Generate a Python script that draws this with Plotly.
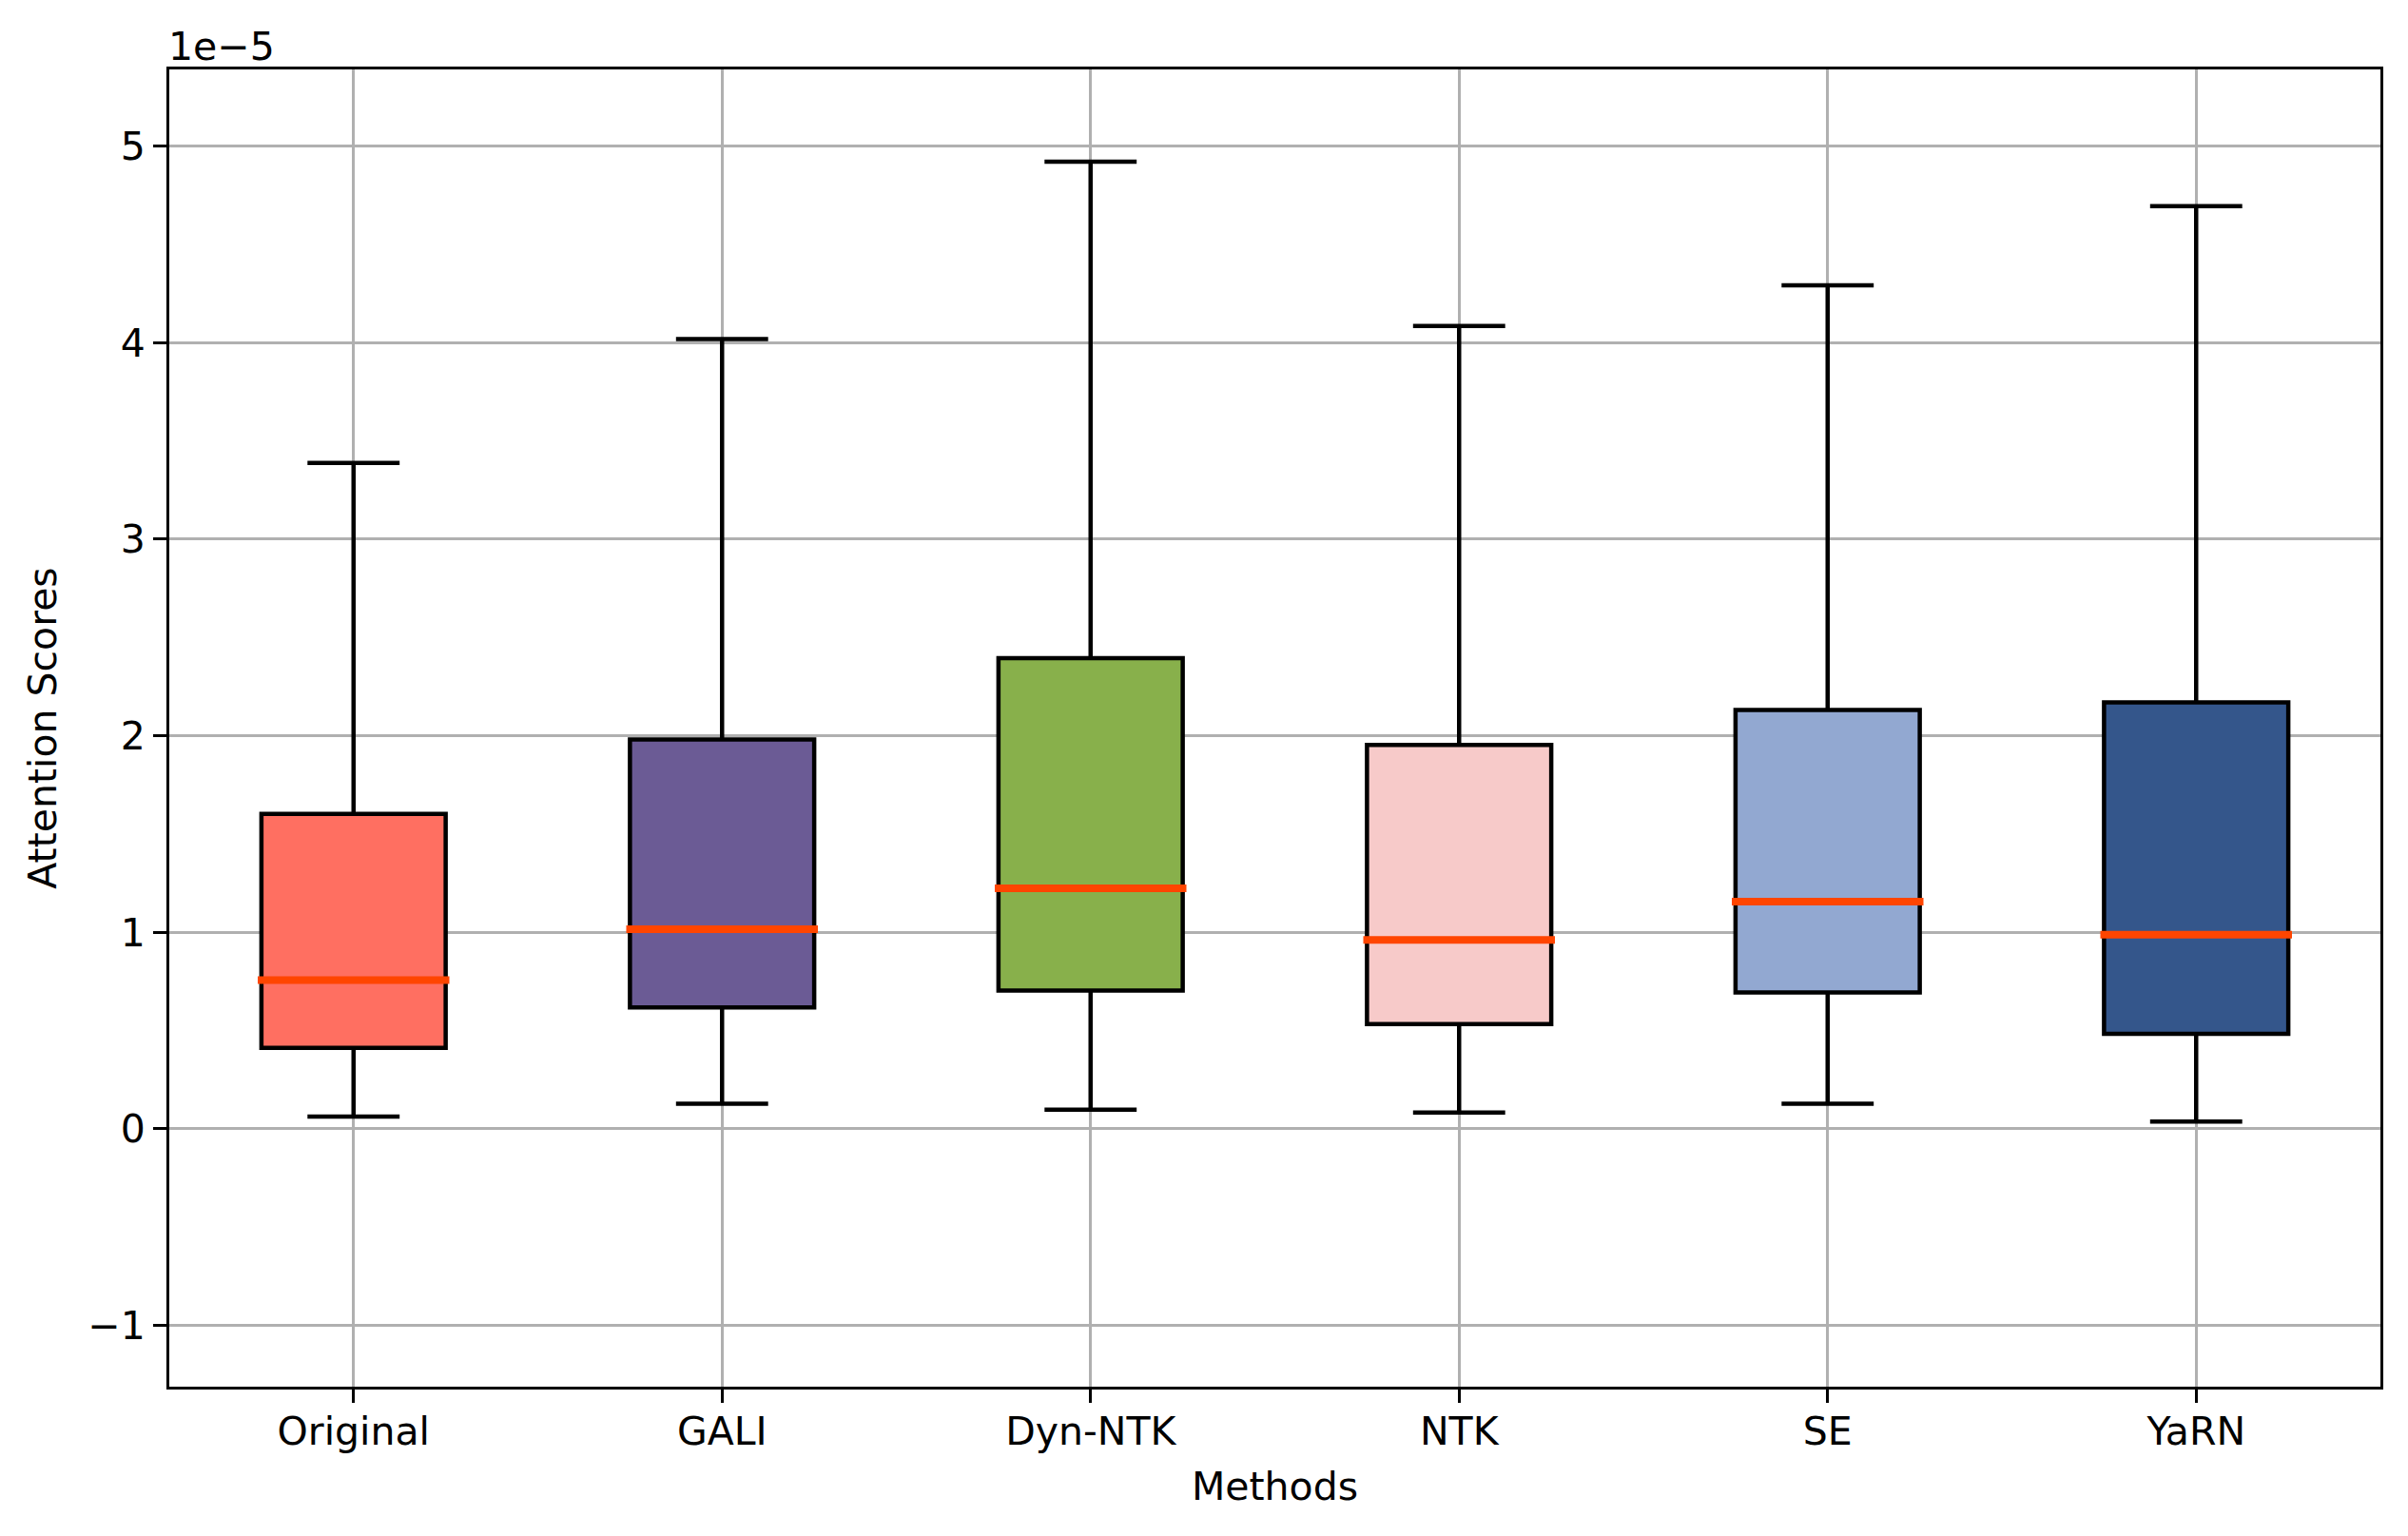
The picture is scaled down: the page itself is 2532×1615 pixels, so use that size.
import plotly.graph_objects as go

# box statistics, in units of 1e-5
methods = ["Original", "GALI", "Dyn-NTK", "NTK", "SE", "YaRN"]
whisker_low = [0.062, 0.127, 0.097, 0.083, 0.127, 0.037]
q1 = [0.411, 0.617, 0.703, 0.532, 0.693, 0.483]
median = [0.756, 1.015, 1.223, 0.961, 1.156, 0.987]
q3 = [1.602, 1.981, 2.394, 1.953, 2.131, 2.170]
whisker_high = [3.388, 4.018, 4.921, 4.085, 4.291, 4.694]
colors = ["#FF6F61", "#6B5B95", "#88B04B", "#F7CAC9", "#92A8D1", "#34568B"]

font = "DejaVu Sans"
fs = 41
fig = go.Figure()

for i, m in enumerate(methods):
    fig.add_trace(go.Box(
        x=[i], q1=[q1[i]], median=[median[i]], q3=[q3[i]],
        lowerfence=[whisker_low[i]], upperfence=[whisker_high[i]],
        name=m, width=0.5, whiskerwidth=0.5,
        fillcolor=colors[i], boxpoints=False,
        line=dict(color="black", width=4.5),
        hoverinfo="skip",
    ))

# median lines drawn on top in orange-red
for i, m in enumerate(methods):
    fig.add_trace(go.Scatter(
        x=[i - 0.26, i + 0.26], y=[median[i], median[i]],
        mode="lines", line=dict(color="#FF4500", width=8),
        hoverinfo="skip",
    ))

axis_common = dict(
    showline=True, linecolor="black", linewidth=3, mirror=True,
    ticks="outside", ticklen=14, tickwidth=3, tickcolor="black",
    showgrid=True, gridcolor="#b0b0b0", gridwidth=2.8,
    zeroline=False,
    tickfont=dict(family=font, size=fs, color="black"),
)

fig.update_xaxes(
    **axis_common,
    range=[-0.5, 5.5],
    tickmode="array", tickvals=list(range(len(methods))), ticktext=methods,
    ticklabelstandoff=-5,
    title=dict(text="Methods", font=dict(family=font, size=fs, color="black"), standoff=21),
)
fig.update_yaxes(
    **axis_common,
    range=[-1.3125, 5.39],
    tickmode="array", tickvals=[-1, 0, 1, 2, 3, 4, 5],
    ticktext=["\u22121", "0", "1", "2", "3", "4", "5"],
    title=dict(text="Attention Scores", font=dict(family=font, size=fs, color="black"), standoff=20),
)

fig.add_annotation(
    text="1e\u22125", xref="paper", yref="paper", x=0, y=1,
    xanchor="left", yanchor="bottom", xshift=-3, yshift=-2, showarrow=False,
    font=dict(family=font, size=fs, color="black"),
)

# the page adds an 8px body margin, so the figure is shrunk by that much
fig.update_layout(
    width=2524, height=1607,
    margin=dict(l=170, r=29, t=65, b=157),
    plot_bgcolor="white", paper_bgcolor="white",
    showlegend=False,
    font=dict(family=font, size=fs, color="black"),
)

fig.write_html("out.html")
